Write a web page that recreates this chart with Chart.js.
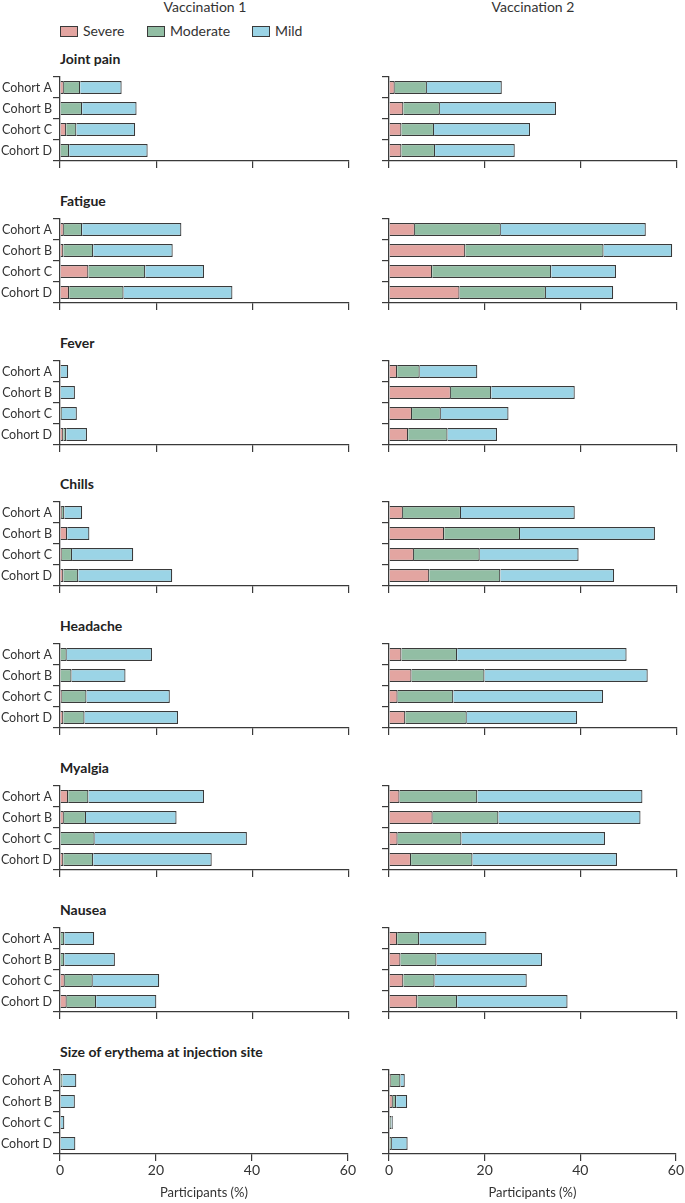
<!DOCTYPE html>
<html>
<head>
<meta charset="utf-8">
<script src="https://cdn.jsdelivr.net/npm/chart.js@4.4.1/dist/chart.umd.min.js"></script>
<style>
  body { margin: 0; background: #fff; overflow: hidden; }
  #page { position: relative; width: 685px; height: 1203px; font-family: Lato, "Open Sans", sans-serif; color: #333; }
  .abs { position: absolute; }
  .head { font-size: 14px; line-height: 16px; transform: translateX(-50%); white-space: nowrap; }
  .title { font-size: 14px; font-weight: bold; line-height: 18px; white-space: nowrap; color: #222; }
  .lg { font-size: 14px; line-height: 16px; white-space: nowrap; }
  .box { width: 16px; height: 9px; border: 1.2px solid #3a3a3a; display: inline-block; vertical-align: -1px; margin-right: 5px; }
</style>
</head>
<body>
<div id="page"></div>
<script>
// data
const cohorts = ['Cohort A', 'Cohort B', 'Cohort C', 'Cohort D'];
const symptoms = ['Joint pain', 'Fatigue', 'Fever', 'Chills', 'Headache', 'Myalgia', 'Nausea', 'Size of erythema at injection site'];
const vaccinations = ['Vaccination 1', 'Vaccination 2'];
const severities = ['Severe', 'Moderate', 'Mild'];
const xTicks = [0, 20, 40, 60];

// Vaccination 1, one row of 4 cohorts per symptom
const severeV1 = [
  [0.8, 0, 1.3, 0],
  [0.8, 0.7, 5.9, 1.9],
  [0, 0, 0, 0.7],
  [0.4, 1.5, 0.4, 0.7],
  [0, 0, 0.4, 0.7],
  [1.7, 0.8, 0, 0.7],
  [0, 0, 1.0, 1.4],
  [0, 0, 0, 0]
];
const moderateV1 = [
  [3.4, 4.6, 2.1, 1.9],
  [3.8, 6.2, 11.8, 11.3],
  [0, 0, 0.4, 0.6],
  [0.5, 0, 2.1, 3.1],
  [1.4, 2.4, 5.1, 4.4],
  [4.2, 4.6, 7.2, 6.2],
  [0.9, 0.9, 5.8, 6.1],
  [0.5, 0, 0, 0]
];
const mildV1 = [
  [8.6, 11.3, 12.2, 16.3],
  [20.6, 16.5, 12.2, 22.6],
  [1.7, 3.1, 3.1, 4.3],
  [3.7, 4.6, 12.7, 19.5],
  [17.7, 11.2, 17.3, 19.4],
  [24.0, 18.8, 31.6, 24.6],
  [6.2, 10.5, 13.8, 12.5],
  [2.9, 3.1, 0.9, 3.2]
];

// Vaccination 2
const severeV2 = [
  [1.2, 3.0, 2.6, 2.6],
  [5.4, 15.9, 9.0, 14.7],
  [1.7, 12.9, 4.8, 4.0],
  [2.9, 11.5, 5.2, 8.4],
  [2.6, 4.7, 1.8, 3.4],
  [2.2, 9.1, 1.8, 4.6],
  [1.7, 2.4, 3.0, 5.9],
  [0.4, 0.8, 0, 0]
];
const moderateV2 = [
  [6.7, 7.6, 6.8, 7.0],
  [17.9, 28.8, 24.8, 18.0],
  [4.7, 8.4, 6.0, 8.2],
  [12.1, 15.8, 13.7, 14.8],
  [11.6, 15.2, 11.6, 12.8],
  [16.2, 13.7, 13.3, 12.8],
  [4.6, 7.5, 6.5, 8.3],
  [2.0, 0.7, 0.5, 0.6]
];
const mildV2 = [
  [15.6, 24.2, 20.0, 16.6],
  [30.2, 14.3, 13.5, 14.0],
  [12.0, 17.4, 14.1, 10.3],
  [23.7, 28.1, 20.6, 23.7],
  [35.3, 34.0, 31.2, 23.0],
  [34.4, 29.6, 29.9, 30.1],
  [14.0, 22.0, 19.2, 23.0],
  [0.9, 2.3, 0.3, 3.3]
];

const colors = ['#e3a5a1', '#92bea4', '#9bd4e6'];
const lineColor = '#3a3a3a';
const textColor = '#333';
const fontFamily = 'Lato, "Open Sans", sans-serif';

Chart.defaults.font.family = fontFamily;
Chart.defaults.color = textColor;

const page = document.getElementById('page');

function addText(cls, text, left, top) {
  const d = document.createElement('div');
  d.className = 'abs ' + cls;
  d.textContent = text;
  d.style.left = left + 'px';
  d.style.top = top + 'px';
  page.appendChild(d);
  return d;
}

// column headers
addText('head', vaccinations[0], 205, -1);
addText('head', vaccinations[1], 533, -1);

// legend
const lgX = [60, 147, 252];
severities.forEach((s, i) => {
  const d = addText('lg', '', lgX[i], 23);
  const b = document.createElement('span');
  b.className = 'box';
  b.style.background = colors[i];
  d.appendChild(b);
  d.appendChild(document.createTextNode(s));
});

const rowStep = 141.8;
const plotH = 84;

function makeChart(r, side) {
  const chartTop = Math.round(77 + r * rowStep);
  const last = r === symptoms.length - 1;
  const xh = last ? 48 : 8;
  const left = side === 0 ? 0 : 329;
  const w = side === 0 ? 357 : 356;
  const h = 4 + plotH + xh;

  const canvas = document.createElement('canvas');
  canvas.width = w;
  canvas.height = h;
  canvas.className = 'abs';
  canvas.style.left = left + 'px';
  canvas.style.top = (chartTop - 4) + 'px';
  canvas.style.width = w + 'px';
  canvas.style.height = h + 'px';
  page.appendChild(canvas);

  const sets = side === 0 ? [severeV1, moderateV1, mildV1] : [severeV2, moderateV2, mildV2];

  new Chart(canvas.getContext('2d'), {
    type: 'bar',
    data: {
      labels: cohorts,
      datasets: severities.map((s, i) => ({
        label: s,
        data: sets[i][r],
        backgroundColor: colors[i],
        borderColor: lineColor,
        borderWidth: 1.2,
        borderSkipped: 'start',
        barPercentage: 0.62,
        categoryPercentage: 1
      }))
    },
    options: {
      indexAxis: 'y',
      responsive: false,
      animation: false,
      layout: { padding: { top: 4, bottom: 0, left: 0, right: 8 } },
      plugins: { legend: { display: false }, tooltip: { enabled: false } },
      scales: {
        y: {
          stacked: true,
          offset: true,
          grid: { offset: true, drawOnChartArea: false, drawTicks: true, tickLength: 7, color: lineColor, lineWidth: 1.2 },
          border: { display: true, color: lineColor, width: 1.3 },
          ticks: { display: side === 0, autoSkip: false, color: textColor, font: { size: 12.5 }, padding: 1 },
          afterFit: (s) => { s.width = 60; s.paddingTop = 0; s.paddingBottom = 0; }
        },
        x: {
          stacked: true,
          min: 0,
          max: 60,
          afterBuildTicks: (s) => { s.ticks = xTicks.map(v => ({ value: v })); },
          grid: { drawOnChartArea: false, drawTicks: true, tickLength: 7, color: lineColor, lineWidth: 1.2 },
          border: { display: true, color: lineColor, width: 1.3 },
          ticks: { display: last, color: textColor, font: { size: 14 }, padding: 1, maxRotation: 0 },
          title: { display: last, text: 'Participants (%)', color: textColor, font: { size: 13 }, padding: { top: 4, bottom: 1 } },
          afterFit: (s) => { s.height = xh; }
        }
      }
    }
  });

  if (side === 0) {
    addText('title', symptoms[r], 60, chartTop - 27);
  }
}

for (let r = 0; r < symptoms.length; r++) {
  makeChart(r, 0);
  makeChart(r, 1);
}
</script>
</body>
</html>
